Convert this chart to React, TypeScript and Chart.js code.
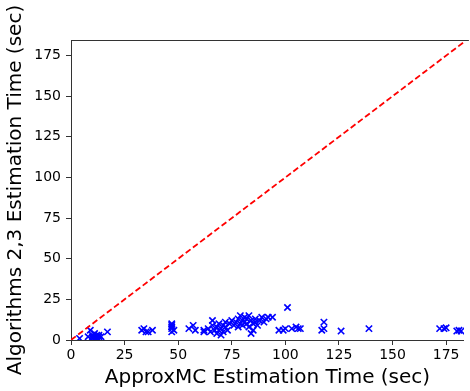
import React, { useEffect, useRef } from "react";
import { Chart, registerables } from "chart.js";

Chart.register(...registerables);

// ApproxMC estimation time (sec)
const approxMCTimes: number[] = [
  4, 8, 9, 10, 10, 10, 11, 11, 12, 12, 12, 13, 13, 14, 17,
  33, 34, 35, 36, 38,
  47, 47, 47, 47, 47, 48,
  55, 57, 58, 62, 62,
  64, 65, 66, 66, 67, 68, 68, 69, 69, 70, 70, 71, 71, 72, 72, 73,
  74, 75, 76, 77, 78, 78, 79, 79, 80, 80, 81, 81, 82, 82, 83, 83, 84, 84, 85, 85, 86, 86, 87, 88, 89, 90, 91, 92, 94,
  97, 99, 100, 101, 103, 105, 106, 107,
  117, 118, 118,
  126, 139, 172, 174, 175, 180, 181, 182,
];

// Algorithms 2,3 estimation time (sec)
const algoTimes: number[] = [
  1, 2, 6, 3, 1, 2, 2, 4, 3, 1, 2, 2, 3, 2, 5,
  6, 7, 5, 5, 6,
  5, 7, 8, 9, 10, 6,
  7, 9, 6, 5, 6,
  7, 5, 12, 9, 6, 4, 8, 10, 6, 3, 7, 9, 5, 8, 11, 6,
  10, 12, 9, 11, 13, 8, 15, 10, 12, 9, 14, 11, 10, 13, 8, 15, 4, 12, 6, 10, 11, 13, 9, 12, 14, 11, 13, 14, 14,
  6, 6, 7, 20, 7, 8, 7, 7,
  6, 7, 11,
  5.5, 7, 7, 7, 7.5, 5.5, 6, 5.5,
];

const axisMaxX = 183.3;
const axisMaxY = 184.6;
const tickValues: number[] = [0, 25, 50, 75, 100, 125, 150, 175];
const xTitle = "ApproxMC Estimation Time (sec)";
const yTitle = "Algorithms 2,3 Estimation Time (sec)";

const topSpine = {
  id: "topSpine",
  afterDraw(chart: any) {
    const { ctx, chartArea } = chart;
    ctx.save();
    ctx.strokeStyle = "#333";
    ctx.lineWidth = 1;
    ctx.beginPath();
    ctx.moveTo(chartArea.left, chartArea.top + 0.5);
    ctx.lineTo(chartArea.right + 5, chartArea.top + 0.5);
    ctx.stroke();
    ctx.restore();
  },
};

export default function App() {
  const ref = useRef<HTMLCanvasElement | null>(null);

  useEffect(() => {
    if (!ref.current) return;
    const points = approxMCTimes.map((x, i) => ({ x, y: algoTimes[i] }));
    const font = { family: "'DejaVu Sans', sans-serif", size: 14 };
    const titleFont = { family: "'DejaVu Sans', sans-serif", size: 20 };
    const chart = new Chart(ref.current, {
      type: "scatter",
      data: {
        datasets: [
          {
            data: [
              { x: 0, y: 0 },
              { x: axisMaxY, y: axisMaxY },
            ],
            showLine: true,
            borderColor: "#ff0000",
            borderWidth: 1.8,
            borderDash: [6, 3],
            pointRadius: 0,
            fill: false,
          } as any,
          {
            data: points,
            pointStyle: "crossRot",
            pointRadius: 4.5,
            borderColor: "#0000ff",
            backgroundColor: "#0000ff",
            borderWidth: 1.6,
          } as any,
        ],
      },
      options: {
        animation: false,
        responsive: false,
        devicePixelRatio: 1,
        layout: { padding: { top: 40, right: 0, left: 0, bottom: 0 } },
        plugins: { legend: { display: false }, tooltip: { enabled: false } },
        scales: {
          x: {
            type: "linear",
            min: 0,
            max: axisMaxX,
            afterFit: (s: any) => {
              s.height = 51;
            },
            afterBuildTicks: (s: any) => {
              s.ticks = tickValues.map((v) => ({ value: v }));
            },
            grid: {
              drawOnChartArea: false,
              drawTicks: true,
              tickLength: 5,
              color: "#333",
            },
            border: { color: "#333", width: 1 },
            ticks: { color: "#000", font, padding: 2, maxRotation: 0, autoSkip: false },
            title: {
              display: true,
              text: xTitle,
              color: "#000",
              font: titleFont,
              padding: { top: 0, bottom: 1 },
            },
          },
          y: {
            type: "linear",
            min: 0,
            max: axisMaxY,
            afterFit: (s: any) => {
              s.width = 71;
            },
            afterBuildTicks: (s: any) => {
              s.ticks = tickValues.map((v) => ({ value: v }));
            },
            grid: {
              drawOnChartArea: false,
              drawTicks: true,
              tickLength: 5,
              color: "#333",
            },
            border: { color: "#333", width: 1 },
            ticks: { color: "#000", font, padding: 5, autoSkip: false },
            title: {
              display: true,
              text: yTitle,
              color: "#000",
              font: titleFont,
              padding: { top: 4, bottom: 0 },
            },
          },
        },
      },
      plugins: [topSpine],
    });
    return () => chart.destroy();
  }, []);

  return (
    <div style={{ position: "absolute", left: 0, top: 0, width: 470, height: 391, background: "#fff" }}>
      <canvas ref={ref} width={470} height={391} />
    </div>
  );
}
